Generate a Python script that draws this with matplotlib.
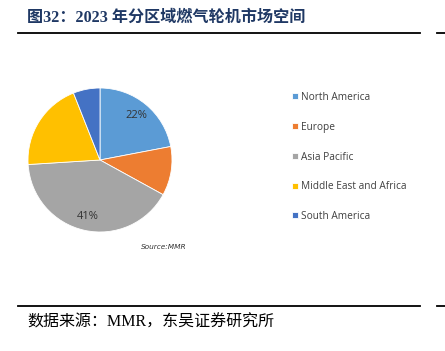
import matplotlib.pyplot as plt
from matplotlib.lines import Line2D

plt.rcParams['font.family'] = ['Liberation Serif', 'Noto Sans CJK SC', 'DejaVu Sans']

# datos del grafico
regions = ['North America', 'Europe', 'Asia Pacific', 'Middle East and Africa', 'South America']
shares = [22, 11, 41, 20, 6]
shown = ['22%', '', '41%', '', '']
colors = ['#5B9BD5', '#ED7D31', '#A5A5A5', '#FFC000', '#4472C4']

W, H = 445, 351
fig = plt.figure(figsize=(W / 100, H / 100), dpi=100)

# pie centrado en (100,160) px, radio 72 px
cx, cy, r = 100, 160, 72
ax = fig.add_axes([(cx - r) / W, (H - cy - r) / H, 2 * r / W, 2 * r / H])
it = iter(shown)
wedges, _, autotexts = ax.pie(shares, colors=colors, startangle=90, counterclock=False,
                              autopct=lambda p: next(it), pctdistance=0.8,
                              wedgeprops=dict(linewidth=0.6, edgecolor='white'),
                              textprops=dict(family=['Open Sans', 'DejaVu Sans'],
                                             fontsize=8, color='#333333'))
ax.set_xlim(-1, 1)
ax.set_ylim(-1, 1)
ax.set_aspect('equal')
ax.axis('off')

fig.text(164 / W, 1 - 247 / H, 'Source:MMR', fontsize=5.3, style='italic',
         family=['DejaVu Sans'], color='#333333', ha='center', va='center')

leg = fig.legend(wedges, regions, loc='upper left', bbox_to_anchor=(292 / W, 1 - 92 / H),
                 frameon=False, prop=dict(family=['Open Sans', 'DejaVu Sans'], size=7.3),
                 labelspacing=1.85, handlelength=0.55, handleheight=0.55,
                 handletextpad=0.35, borderpad=0, borderaxespad=0)
for t in leg.get_texts():
    t.set_color('#404040')

# titulo y lineas
fig.text(27 / W, 1 - 18 / H, '图32：2023 年分区域燃气轮机市场空间', fontsize=11.6,
         fontweight='bold', color='#1F3864', ha='left', va='center')
for y in (33, 306):
    yy = 1 - y / H
    fig.add_artist(Line2D([18 / W, 420 / W], [yy, yy], color='black', lw=1.3))
    fig.add_artist(Line2D([437 / W, 1], [yy, yy], color='black', lw=1.3))

fig.text(27 / W, 1 - 323 / H, '数据来源：MMR，东吴证券研究所', fontsize=11.5,
         color='black', ha='left', va='center')

fig.savefig('out.png', dpi=100)
